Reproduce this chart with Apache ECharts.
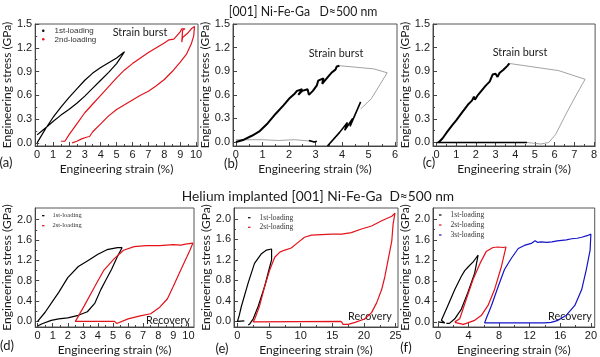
<!DOCTYPE html>
<html><head><meta charset="utf-8">
<script src="https://cdn.jsdelivr.net/npm/echarts@6/dist/echarts.min.js"></script>
<style>html,body{margin:0;padding:0;background:#fff}#c{width:600px;height:357px}</style>
</head><body><div id="c"></div>
<script>
// ---------- tick values ----------
const aX = [0,1,2,3,4,5,6,7,8,9,10];
const aXm = [0.5,1.5,2.5,3.5,4.5,5.5,6.5,7.5,8.5,9.5];
const bX = [0,1,2,3,4,5,6];
const bXm = [0.5,1.5,2.5,3.5,4.5,5.5];
const cX = [0,1,2,3,4,5,6,7,8];
const cXm = [0.5,1.5,2.5,3.5,4.5,5.5,6.5,7.5];
const topY = [0,0.3,0.6,0.9,1.2,1.5];
const topYm = [0.15,0.45,0.75,1.05,1.35];
const dX = [0,1,2,3,4,5,6,7,8,9,10];
const dXm = [0.5,1.5,2.5,3.5,4.5,5.5,6.5,7.5,8.5,9.5];
const eX = [0,5,10,15,20,25];
const eXm = [2.5,7.5,12.5,17.5,22.5];
const fX = [0,4,8,12,16,20];
const fXm = [2,6,10,14,18];
const botY = [0,0.4,0.8,1.2,1.6,2.0];
const botYm = [0.2,0.6,1.0,1.4,1.8];

// ---------- data (strain %, stress GPa) ----------
const a1 = [[0.0,0.0],[0.3,0.1],[0.6,0.2],[1.0,0.32],[1.5,0.45],[2.0,0.57],[2.5,0.68],[3.0,0.79],[3.5,0.88],[4.0,0.95],[4.5,1.01],[5.0,1.07],[5.5,1.15],[5.2,1.06],[5.0,1.0],[4.5,0.89],[4.0,0.79],[3.5,0.69],[3.0,0.59],[2.5,0.5],[2.0,0.42],[1.5,0.35],[1.0,0.27],[0.6,0.2],[0.3,0.15],[0.0,0.1]];
const a2 = [[1.5,0.02],[1.6,0.0],[1.75,0.02],[2.0,0.1],[2.5,0.24],[3.0,0.38],[3.5,0.49],[4.0,0.6],[4.5,0.71],[5.0,0.82],[5.5,0.92],[6.0,1.0],[6.5,1.07],[7.0,1.14],[7.5,1.2],[8.0,1.26],[8.3,1.3],[8.6,1.31],[9.0,1.4],[9.1,1.44],[9.3,1.44],[9.15,1.42],[9.1,1.27],[9.15,1.33],[9.5,1.39],[9.7,1.44],[9.8,1.46],[9.9,1.47],[9.95,1.45],[9.85,1.35],[9.7,1.25],[9.4,1.12],[9.0,1.02],[8.5,0.9],[8.0,0.8],[7.5,0.72],[7.0,0.65],[6.5,0.6],[6.0,0.54],[5.5,0.48],[5.0,0.42],[4.5,0.34],[4.0,0.24],[3.5,0.14],[3.3,0.08],[3.2,0.1],[3.1,0.07],[2.8,0.05],[2.5,0.02],[2.2,0.0]];

const b1 = [[0.0,0.0],[0.3,0.03],[0.6,0.08],[0.9,0.14],[1.2,0.24],[1.5,0.36],[1.8,0.47],[2.0,0.55],[2.2,0.61],[2.3,0.65],[2.5,0.67],[2.35,0.6],[2.5,0.65],[2.7,0.67],[2.75,0.6],[2.9,0.65],[3.05,0.72],[3.1,0.78],[3.3,0.81],[3.25,0.74],[3.5,0.84],[3.6,0.88],[3.75,0.92],[3.8,0.96],[3.85,0.94],[3.9,0.97]];
const b2 = [[3.9,0.97],[5.2,0.93],[5.7,0.88],[5.1,0.55],[4.7,0.42]];
const b3 = [[3.45,-0.05],[3.9,0.12],[4.2,0.25],[4.1,0.15],[4.4,0.3],[4.3,0.2],[4.7,0.51]];
const b4 = [[0.0,0.03],[1.0,0.03],[1.6,0.02],[2.2,0.03],[2.9,0.01]];
const b5 = [[2.75,0.02],[2.95,0.0],[3.05,0.01]];

const c1 = [[0.1,0.0],[0.3,0.05],[0.5,0.12],[0.8,0.22],[1.0,0.28],[1.3,0.38],[1.6,0.48],[1.8,0.53],[1.9,0.58],[1.95,0.54],[2.1,0.6],[2.3,0.66],[2.5,0.72],[2.7,0.77],[2.85,0.86],[3.0,0.87],[3.1,0.83],[3.2,0.88],[3.4,0.92],[3.5,0.91],[3.6,0.97],[3.7,1.0]];
const c2 = [[3.7,1.0],[6.2,0.91],[7.55,0.8],[7.1,0.6],[6.6,0.37],[6.05,0.1],[5.7,0.0],[5.3,-0.02],[4.6,0.0]];
const c3 = [[0.0,0.0],[4.6,0.0]];

const d1 = [[0.0,0.0],[0.5,0.18],[1.0,0.4],[1.4,0.57],[2.0,0.86],[2.7,1.08],[3.3,1.19],[4.0,1.32],[4.6,1.41],[5.3,1.45],[5.6,1.45],[5.3,1.28],[4.9,1.02],[4.5,0.8],[4.2,0.63],[3.8,0.36],[3.3,0.19],[2.7,0.12],[2.0,0.07],[1.4,0.05],[0.9,0.02],[0.3,-0.045],[0.0,-0.09]];
const d2 = [[5.25,-0.04],[5.1,0.0],[2.5,0.0],[2.6,0.05],[3.1,0.31],[3.8,0.69],[4.4,1.01],[5.1,1.24],[5.7,1.4],[6.4,1.47],[7.2,1.49],[8.1,1.49],[9.0,1.51],[9.5,1.5],[9.8,1.52],[10.3,1.54],[10.1,1.4],[9.9,1.27],[9.4,0.95],[9.0,0.69],[8.6,0.44],[8.1,0.28],[7.5,0.15],[6.8,0.11],[6.0,0.05],[5.25,-0.04]];

const e1 = [[1.1,0.01],[0.0,0.0],[0.3,0.12],[0.6,0.28],[1.7,0.75],[2.7,1.13],[3.8,1.32],[4.6,1.39],[5.4,1.41],[5.6,1.42],[5.4,1.2],[5.1,1.06],[4.3,0.68],[3.3,0.3],[2.5,0.05],[1.95,-0.05],[1.7,-0.07]];
const e2 = [[16.4,0.0],[2.5,-0.01],[2.5,0.0],[2.75,0.05],[3.5,0.3],[4.3,0.68],[5.1,1.0],[5.9,1.25],[6.7,1.35],[7.5,1.39],[8.5,1.43],[9.6,1.54],[10.6,1.64],[11.7,1.68],[13.3,1.69],[14.9,1.7],[16.5,1.7],[18.0,1.73],[19.6,1.8],[21.2,1.86],[22.8,1.96],[24.4,2.05],[24.9,2.11],[24.6,1.89],[24.4,1.57],[23.8,1.19],[23.3,0.87],[22.8,0.62],[22.0,0.36],[21.2,0.17],[20.1,0.045],[18.6,-0.02],[17.5,-0.06],[16.7,-0.06],[16.4,0.0]];

const f1 = [[0.0,0.0],[0.9,-0.02],[0.45,0.03],[1.3,0.32],[2.2,0.63],[3.06,0.89],[3.5,1.0],[3.7,1.02],[3.75,0.98],[4.0,1.08],[4.6,1.17],[5.0,1.25],[5.25,1.3],[5.4,1.31],[4.8,0.95],[3.9,0.57],[3.06,0.25],[2.2,0.06],[1.5,-0.03],[1.1,-0.03]];
const f2 = [[2.2,0.0],[2.85,0.06],[3.7,0.44],[4.6,0.83],[5.5,1.14],[6.3,1.37],[7.2,1.45],[7.9,1.46],[8.5,1.45],[8.9,1.46],[8.95,1.44],[8.3,1.08],[7.4,0.63],[6.55,0.32],[5.7,0.13],[4.8,0.03],[3.7,-0.03],[3.3,-0.05],[2.2,-0.01]];
const f3 = [[14.0,-0.02],[6.1,-0.02],[6.3,0.06],[7.0,0.32],[7.9,0.7],[8.7,1.02],[9.6,1.24],[10.5,1.43],[11.3,1.49],[12.2,1.53],[12.7,1.58],[13.0,1.55],[13.5,1.56],[14.2,1.55],[14.9,1.56],[15.6,1.58],[16.2,1.59],[16.8,1.6],[17.5,1.62],[18.2,1.63],[18.8,1.65],[19.5,1.68],[20.0,1.71],[19.9,1.4],[19.4,1.02],[18.8,0.63],[17.9,0.32],[16.8,0.13],[15.7,0.03],[14.8,-0.01],[14.0,-0.02]];

// ---------- layout / styles ----------
const BLACK = '#000000', RED = '#e3121b', BLUE = '#1414c8', GRAY = '#8a8a8a';
const TXT = '#1a1a1a';
const TICKFONT = 'Liberation Sans';
const TITLEFONT = 'Lato';

const panels = [
  {box:[33,24,165,122], x:[-0.12,10.12], y:[-0.04,1.5], xt:aX, xm:aXm, yt:topY, ym:topYm,
   series:[{name:'1st-loading', data:a1, color:BLACK, w:1.2},{name:'2nd-loading', data:a2, color:RED, w:1.2}]},
  {box:[233,24,164,122], x:[-0.11,6.07], y:[-0.05,1.5], xt:bX, xm:bXm, yt:topY, ym:topYm,
   series:[{name:'b-unload', data:b2, color:GRAY, w:0.8},{name:'b-base', data:b4, color:GRAY, w:0.8},
           {name:'b-load', data:b1, color:BLACK, w:2},{name:'b-seg', data:b3, color:BLACK, w:1.6},{name:'b-end', data:b5, color:BLACK, w:1.6}]},
  {box:[433,24,164,122], x:[-0.18,8.06], y:[-0.045,1.5], xt:cX, xm:cXm, yt:topY, ym:topYm,
   series:[{name:'c-unload', data:c2, color:GRAY, w:0.8},{name:'c-base', data:c3, color:BLACK, w:1.6},
           {name:'c-load', data:c1, color:BLACK, w:2}]},
  {box:[33,208,161,122], x:[-0.16,10.37], y:[-0.11,2.23], xt:dX, xm:dXm, yt:botY, ym:botYm,
   series:[{name:'1st-loading', data:d1, color:BLACK, w:1.2},{name:'2st-loading', data:d2, color:RED, w:1.2}]},
  {box:[234,208,164,122], x:[-0.54,25.38], y:[-0.11,2.21], xt:eX, xm:eXm, yt:botY, ym:botYm,
   series:[{name:'1st-loading', data:e1, color:BLACK, w:1.2},{name:'2st-loading', data:e2, color:RED, w:1.2}]},
  {box:[433,208,162,122], x:[-0.65,20.5], y:[-0.1,2.22], xt:fX, xm:fXm, yt:botY, ym:botYm,
   series:[{name:'1st-loading', data:f1, color:BLACK, w:1.2},{name:'2st-loading', data:f2, color:RED, w:1.2},{name:'3st-loading', data:f3, color:BLUE, w:1.2}]}
];

const grid = [], xAxis = [], yAxis = [], series = [];
panels.forEach((p, i) => {
  grid.push({left:p.box[0], top:p.box[1], width:p.box[2], height:p.box[3], show:true, borderColor:'#555', borderWidth:1, backgroundColor:'transparent'});
  const common = {type:'value', gridIndex:i, splitLine:{show:false}};
  xAxis.push(Object.assign({}, common, {min:p.x[0], max:p.x[1], position:'bottom',
    axisLine:{show:true, onZero:false, lineStyle:{color:'#444', width:1}},
    axisTick:{show:true, inside:true, length:4, customValues:p.xt, lineStyle:{color:'#444'}},
    axisLabel:{show:true, customValues:p.xt, color:TXT, fontSize:11, fontFamily:TICKFONT, margin:3, formatter:v=>String(Math.round(v))},
    name:'Engineering strain (%)', nameLocation:'middle', nameGap:17,
    nameTextStyle:{fontFamily:TITLEFONT, fontSize:12, color:TXT}}));
  xAxis.push(Object.assign({}, common, {min:p.x[0], max:p.x[1], position:'bottom',
    axisLine:{show:false, onZero:false}, axisTick:{show:true, inside:true, length:2, customValues:p.xm, lineStyle:{color:'#444'}},
    axisLabel:{show:false}}));
  yAxis.push(Object.assign({}, common, {min:p.y[0], max:p.y[1], position:'left',
    axisLine:{show:true, onZero:false, lineStyle:{color:'#444', width:1}},
    axisTick:{show:true, inside:true, length:4, customValues:p.yt, lineStyle:{color:'#444'}},
    axisLabel:{show:true, customValues:p.yt, color:TXT, fontSize:11, fontFamily:TICKFONT, margin:3, formatter:v=>v.toFixed(1)},
    name:'Engineering stress (GPa)', nameLocation:'middle', nameGap:19,
    nameTextStyle:{fontFamily:TITLEFONT, fontSize:12, color:TXT}}));
  yAxis.push(Object.assign({}, common, {min:p.y[0], max:p.y[1], position:'left',
    axisLine:{show:false, onZero:false}, axisTick:{show:true, inside:true, length:2, customValues:p.ym, lineStyle:{color:'#444'}},
    axisLabel:{show:false}}));
  p.series.forEach(s => {
    series.push({type:'line', name:s.name, xAxisIndex:2*i, yAxisIndex:2*i, data:s.data,
      showSymbol:false, symbol:'none', silent:true, color:s.color,
      itemStyle:{color:s.color}, lineStyle:{color:s.color, width:s.w}});
  });
});

const legStyle = (font, size, lh, pad) => ({fontSize:size, fontFamily:font, color:'#333', lineHeight:lh, padding:[0,0,0,pad]});
const legBase = {padding:0, orient:'vertical', itemGap:0, itemStyle:{borderWidth:0}, lineStyle:{width:0, inactiveWidth:0}};
const legend = [
  Object.assign({}, legBase, {left:42, top:26.4, icon:'circle', itemWidth:2.5, itemHeight:2.5,
   data:['1st-loading','2nd-loading'], textStyle:legStyle('Liberation Sans', 8, 8.6, 5)}),
  Object.assign({}, legBase, {left:42, top:210.7, icon:'rect', itemWidth:2.5, itemHeight:1.2,
   data:['1st-loading','2st-loading'], textStyle:legStyle('Liberation Serif', 6.5, 10, 3)}),
  Object.assign({}, legBase, {left:248, top:212.9, icon:'rect', itemWidth:2.5, itemHeight:1.2,
   data:['1st-loading','2st-loading'], textStyle:legStyle('Liberation Serif', 7.5, 9.6, 4)}),
  Object.assign({}, legBase, {left:439, top:210, icon:'rect', itemWidth:2.5, itemHeight:1.2,
   data:['1st-loading','2st-loading','3st-loading'], textStyle:legStyle('Liberation Serif', 7.5, 10, 4)})
];

const T = (text, x, y, size, sx) => ({type:'text', x, y, scaleX:sx||1, silent:true,
  style:{text, fill:TXT, font:size+'px '+TITLEFONT, align:'center', verticalAlign:'middle'}});
const graphic = [
  T('[001] Ni-Fe-Ga   D\u2248500 nm', 303, 12, 13.5, 0.91),
  T('Helium implanted [001] Ni-Fe-Ga  D\u2248500 nm', 318, 196, 14, 0.98),
  T('Strain burst', 140, 32, 12, 0.9), T('Strain burst', 336, 53, 12, 0.9), T('Strain burst', 520, 52, 12, 0.9),
  T('Recovery', 168, 320, 12, 0.9), T('Recovery', 370, 316, 12, 0.9), T('Recovery', 570, 316, 12, 0.9),
  T('(a)', 6, 163, 13), T('(b)', 231, 164, 13), T('(c)', 429, 163, 13),
  T('(d)', 7, 346, 13), T('(e)', 222, 349, 13), T('(f)', 406, 348, 13)
];

const chart = echarts.init(document.getElementById('c'), null, {renderer:'canvas'});
chart.setOption({animation:false, backgroundColor:'#fff', grid, xAxis, yAxis, series, legend, graphic});
</script></body></html>
